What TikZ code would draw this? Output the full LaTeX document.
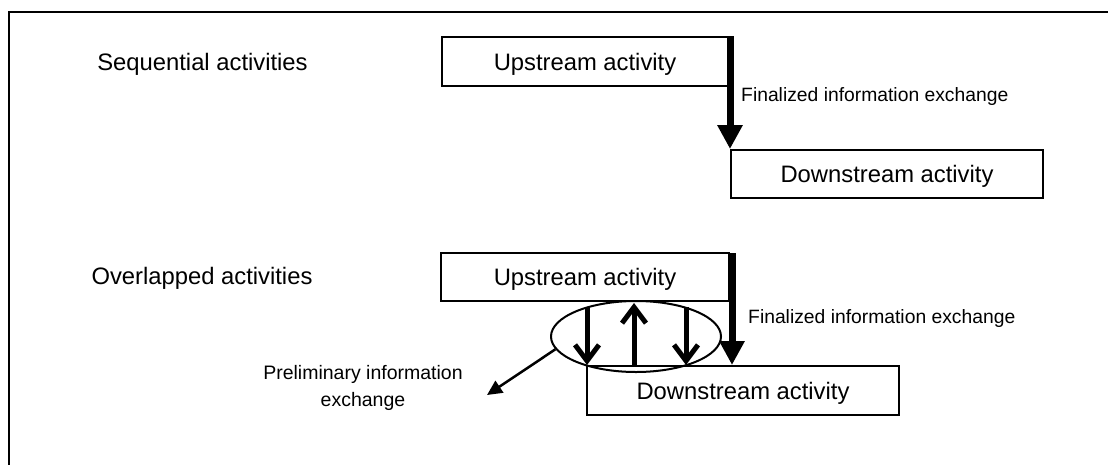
\documentclass[tikz,border=0pt]{standalone}
\usepackage{fontspec}
\setmainfont{Liberation Sans}
\usetikzlibrary{arrows.meta,shapes.geometric}
\tikzset{
  actbox/.style={draw, line width=2pt, fill=white, inner sep=0pt,
    text height=17pt, text depth=0pt, font=\fontsize{23.8}{28}\selectfont},
  biglbl/.style={inner sep=0pt, font=\fontsize{23.8}{28}\selectfont},
  finlbl/.style={inner sep=0pt, font=\fontsize{19.3}{23}\selectfont},
  prelbl/.style={inner sep=0pt, align=center, font=\fontsize{19.5}{27}\selectfont},
  finarrow/.style={line width=7pt, -{Triangle[length=24pt,width=24pt]}},
  prearrow/.style={line width=5pt, -{Straight Barb[length=16pt,width=24pt]}},
  pointer/.style={line width=2.5pt, -{Triangle[length=15pt,width=14pt]}},
}
\begin{document}
\begin{tikzpicture}[x=1pt,y=-1pt]
\useasboundingbox (0,0) rectangle (1108,464);
\clip (0,0) rectangle (1108,464);
\draw[line width=2.4pt] (9,12) rectangle (1200,600);

% sequential
\node[biglbl, anchor=base] (seq) at (202.5,70) {Sequential activities};
\node[actbox, minimum width=286pt, minimum height=49pt] (up1) at (585,61.5) {Upstream activity};
\node[actbox, minimum width=312pt, minimum height=48pt] (down1) at (887,174) {Downstream activity};
\draw[finarrow] (down1.north west |- up1.north) -- (down1.north west);
\node[finlbl, anchor=base west] (fin1) at (741,101) {Finalized information exchange};

% overlapped
\node[biglbl, anchor=base] (ovl) at (202,284) {Overlapped activities};
\node[actbox, minimum width=288pt, minimum height=48pt] (up2) at (585,277) {Upstream activity};
\node[actbox, minimum width=312pt, minimum height=49pt] (down2) at (743,390.5) {Downstream activity};
\coordinate (f2) at (732,253);
\draw[finarrow] (f2) -- (f2 |- down2.north);
\node[finlbl, anchor=base west] (fin2) at (748,323) {Finalized information exchange};

\node[ellipse, draw, line width=2pt, minimum width=170pt, minimum height=71pt, inner sep=0pt] (ell) at (636,336.5) {};
\coordinate (a1) at (587,307);
\coordinate (a2) at (634,303);
\coordinate (a3) at (686,307);
\draw[prearrow] (a1) -- (a1 |- down2.north);
\draw[prearrow] (a2 |- down2.north) -- (a2);
\draw[prearrow] (a3) -- (a3 |- down2.north);

\node[prelbl, anchor=base] (pre) at (363,406) {Preliminary information\\exchange};
\coordinate (pt) at (487,395);
\draw[pointer] (ell.189) -- (pt);
\end{tikzpicture}
\end{document}
